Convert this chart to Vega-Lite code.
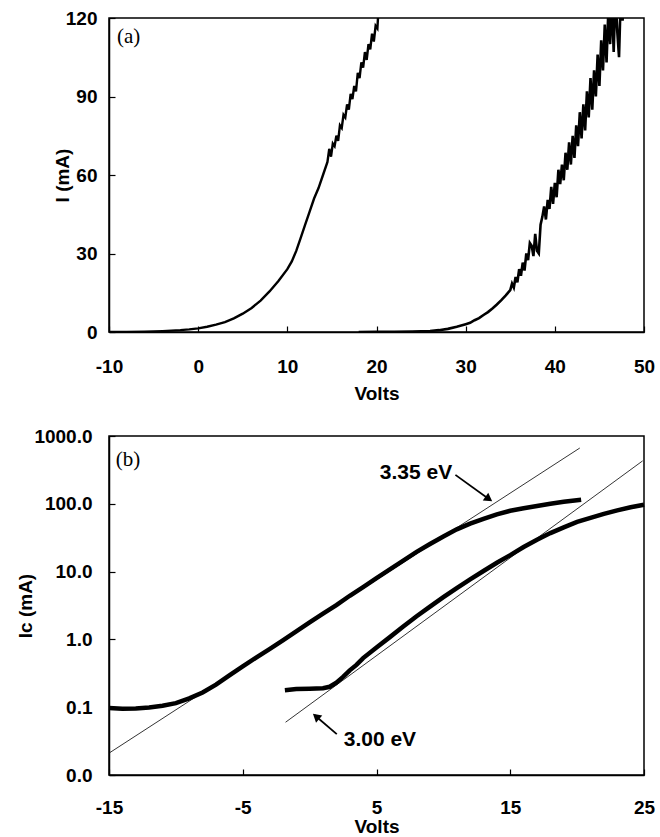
{
  "$schema": "https://vega.github.io/schema/vega-lite/v6.json",
  "padding": {"left": 16, "top": 8, "right": 12, "bottom": 0},
  "spacing": 22,
  "config": {
    "font": "Liberation Sans",
    "view": {"stroke": "black", "strokeWidth": 1.5},
    "axis": {
      "labelFont": "Liberation Sans", "labelFontSize": 19, "labelFontWeight": "bold", "labelColor": "black",
      "titleFont": "Liberation Sans", "titleFontSize": 19, "titleFontWeight": "bold", "titleColor": "black",
      "domainColor": "black", "domainWidth": 1.5, "tickColor": "black", "tickSize": -6, "tickWidth": 1.2,
      "grid": false, "labelFlush": false, "labelOverlap": false
    }
  },
  "datasets": {
    "a1": [
      {"x": -10, "y": 0}, {"x": -8, "y": 0.05}, {"x": -6, "y": 0.15}, {"x": -4, "y": 0.35}, {"x": -2, "y": 0.7},
      {"x": -1, "y": 1}, {"x": 0, "y": 1.4}, {"x": 1, "y": 2}, {"x": 2, "y": 2.8}, {"x": 3, "y": 3.8},
      {"x": 4, "y": 5.2}, {"x": 5, "y": 7}, {"x": 6, "y": 9.2}, {"x": 7, "y": 12}, {"x": 8, "y": 15.5},
      {"x": 9, "y": 19.5}, {"x": 10, "y": 24}, {"x": 10.5, "y": 27}, {"x": 11, "y": 31}, {"x": 11.5, "y": 36},
      {"x": 12, "y": 41}, {"x": 12.5, "y": 46}, {"x": 13, "y": 51}, {"x": 13.5, "y": 55}, {"x": 14, "y": 60},
      {"x": 14.5, "y": 65}, {"x": 14.7, "y": 70}, {"x": 14.9, "y": 67}, {"x": 15.1, "y": 72}, {"x": 15.3, "y": 71},
      {"x": 15.5, "y": 75}, {"x": 15.7, "y": 73}, {"x": 15.9, "y": 79}, {"x": 16.1, "y": 78}, {"x": 16.3, "y": 83},
      {"x": 16.5, "y": 82}, {"x": 16.7, "y": 87}, {"x": 16.9, "y": 85}, {"x": 17.1, "y": 91}, {"x": 17.3, "y": 89},
      {"x": 17.5, "y": 94}, {"x": 17.7, "y": 92}, {"x": 17.9, "y": 99}, {"x": 18.1, "y": 97}, {"x": 18.3, "y": 103},
      {"x": 18.5, "y": 101}, {"x": 18.7, "y": 107}, {"x": 18.9, "y": 104}, {"x": 19.1, "y": 110}, {"x": 19.3, "y": 108},
      {"x": 19.5, "y": 114}, {"x": 19.7, "y": 111}, {"x": 19.9, "y": 117}, {"x": 20.1, "y": 116}, {"x": 20.2, "y": 122}
    ],
    "a2": [
      {"x": 18, "y": 0}, {"x": 20, "y": 0.05}, {"x": 22, "y": 0.1}, {"x": 24, "y": 0.2}, {"x": 26, "y": 0.4},
      {"x": 27, "y": 0.7}, {"x": 28, "y": 1.2}, {"x": 29, "y": 2}, {"x": 30, "y": 3}, {"x": 30.5, "y": 3.5},
      {"x": 31, "y": 4.5}, {"x": 31.5, "y": 5.3}, {"x": 32, "y": 6.5}, {"x": 32.5, "y": 7.6}, {"x": 33, "y": 9},
      {"x": 33.5, "y": 10.5}, {"x": 34, "y": 12.2}, {"x": 34.5, "y": 14}, {"x": 35, "y": 16},
      {"x": 35.2, "y": 18.5}, {"x": 35.4, "y": 17}, {"x": 35.6, "y": 21}, {"x": 35.8, "y": 19}, {"x": 36.0, "y": 24},
      {"x": 36.2, "y": 21.5}, {"x": 36.4, "y": 26.5}, {"x": 36.6, "y": 23.5}, {"x": 36.8, "y": 30}, {"x": 37.0, "y": 27.5},
      {"x": 37.2, "y": 34}, {"x": 37.4, "y": 33}, {"x": 37.6, "y": 29}, {"x": 37.8, "y": 37.5}, {"x": 38.0, "y": 31},
      {"x": 38.2, "y": 30}, {"x": 38.4, "y": 41}, {"x": 38.6, "y": 44}, {"x": 38.8, "y": 48}, {"x": 39.0, "y": 43},
      {"x": 39.2, "y": 50.5}, {"x": 39.4, "y": 47}, {"x": 39.6, "y": 55.5}, {"x": 39.8, "y": 49}, {"x": 40.0, "y": 57},
      {"x": 40.2, "y": 51.5}, {"x": 40.4, "y": 62}, {"x": 40.6, "y": 56.5}, {"x": 40.8, "y": 64}, {"x": 41.0, "y": 58},
      {"x": 41.2, "y": 68.5}, {"x": 41.4, "y": 62}, {"x": 41.6, "y": 72.5}, {"x": 41.8, "y": 64}, {"x": 42.0, "y": 75},
      {"x": 42.2, "y": 66.5}, {"x": 42.4, "y": 79}, {"x": 42.6, "y": 71}, {"x": 42.8, "y": 84}, {"x": 43.0, "y": 74},
      {"x": 43.2, "y": 87}, {"x": 43.4, "y": 77}, {"x": 43.6, "y": 92}, {"x": 43.8, "y": 82}, {"x": 44.0, "y": 97},
      {"x": 44.2, "y": 85}, {"x": 44.4, "y": 100}, {"x": 44.6, "y": 90}, {"x": 44.8, "y": 106}, {"x": 45.0, "y": 94},
      {"x": 45.2, "y": 111.5}, {"x": 45.4, "y": 100}, {"x": 45.6, "y": 117.5}, {"x": 45.8, "y": 103}, {"x": 46.0, "y": 123},
      {"x": 46.2, "y": 110}, {"x": 46.4, "y": 126.5}, {"x": 46.6, "y": 107}, {"x": 46.8, "y": 129}, {"x": 47.0, "y": 115},
      {"x": 47.2, "y": 105}, {"x": 47.4, "y": 129}, {"x": 47.6, "y": 119}, {"x": 47.8, "y": 135}, {"x": 48.0, "y": 122},
      {"x": 48.2, "y": 129}, {"x": 48.4, "y": 139}
    ],
    "labA": [{"x": -9.1, "y": 112.7, "t": "(a)"}],
    "b1": [
      {"x": -15, "y": 0.097}, {"x": -14, "y": 0.095}, {"x": -13, "y": 0.096}, {"x": -12, "y": 0.099}, {"x": -11, "y": 0.105},
      {"x": -10, "y": 0.115}, {"x": -9, "y": 0.135}, {"x": -8, "y": 0.165}, {"x": -7, "y": 0.215}, {"x": -6, "y": 0.295},
      {"x": -5, "y": 0.4}, {"x": -4, "y": 0.54}, {"x": -3, "y": 0.72}, {"x": -2, "y": 0.97}, {"x": -1, "y": 1.31},
      {"x": 0, "y": 1.78}, {"x": 1, "y": 2.4}, {"x": 2, "y": 3.2}, {"x": 3, "y": 4.4}, {"x": 4, "y": 5.9},
      {"x": 5, "y": 8}, {"x": 6, "y": 10.8}, {"x": 7, "y": 14.5}, {"x": 8, "y": 19.5}, {"x": 9, "y": 25.5},
      {"x": 10, "y": 33}, {"x": 11, "y": 42}, {"x": 12, "y": 51}, {"x": 13, "y": 60}, {"x": 14, "y": 70},
      {"x": 15, "y": 79}, {"x": 16, "y": 86}, {"x": 17, "y": 93}, {"x": 18, "y": 100}, {"x": 19, "y": 107},
      {"x": 20.3, "y": 115}
    ],
    "b2": [
      {"x": -1.85, "y": 0.178}, {"x": -1, "y": 0.185}, {"x": 0, "y": 0.187}, {"x": 1, "y": 0.19}, {"x": 1.5, "y": 0.2},
      {"x": 2, "y": 0.23}, {"x": 2.5, "y": 0.28}, {"x": 3, "y": 0.35}, {"x": 3.5, "y": 0.42}, {"x": 4, "y": 0.53},
      {"x": 5, "y": 0.76}, {"x": 6, "y": 1.08}, {"x": 7, "y": 1.55}, {"x": 8, "y": 2.2}, {"x": 9, "y": 3.05},
      {"x": 10, "y": 4.2}, {"x": 11, "y": 5.7}, {"x": 12, "y": 7.7}, {"x": 13, "y": 10.2}, {"x": 14, "y": 13.5},
      {"x": 15, "y": 17.5}, {"x": 16, "y": 23}, {"x": 17, "y": 29.5}, {"x": 18, "y": 37}, {"x": 19, "y": 45},
      {"x": 20, "y": 54}, {"x": 21, "y": 62}, {"x": 22, "y": 71}, {"x": 23, "y": 80}, {"x": 24, "y": 89},
      {"x": 25, "y": 97}
    ],
    "tan": [
      {"x": -15, "y": 0.021, "line": "3.35 eV"}, {"x": 20.2, "y": 665, "line": "3.35 eV"},
      {"x": -1.8, "y": 0.06, "line": "3.00 eV"}, {"x": 24.9, "y": 430, "line": "3.00 eV"}
    ],
    "arrows": [
      {"x": 10.9, "y": 267, "x2": 13.5, "y2": 114},
      {"x": 2.03, "y": 0.04, "x2": 0.38, "y2": 0.076}
    ],
    "head1": [{"x": 13.4, "y": 118}],
    "head2": [{"x": 0.48, "y": 0.073}],
    "labB": [
      {"x": -14.5, "y": 445, "t": "(b)"}
    ],
    "ev": [
      {"x": 5.25, "y": 286, "t": "3.35 eV"},
      {"x": 2.55, "y": 0.0327, "t": "3.00 eV"}
    ]
  },
  "vconcat": [
    {
      "width": 535,
      "height": 314,
      "encoding": {
        "x": {"field": "x", "type": "quantitative", "scale": {"domain": [-10, 50], "nice": false},
              "axis": {"values": [-10, 0, 10, 20, 30, 40, 50], "labelExpr": "replace(datum.label, '\u2212', '-')", "labelPadding": 31, "titlePadding": 8}, "title": "Volts"},
        "y": {"field": "y", "type": "quantitative", "scale": {"domain": [0, 120], "nice": false},
              "axis": {"values": [0, 30, 60, 90, 120], "labelPadding": 18, "titlePadding": -7}, "title": "I (mA)"}
      },
      "layer": [
        {"data": {"name": "a1"}, "mark": {"type": "line", "color": "black", "strokeWidth": 2.4, "clip": true}},
        {"data": {"name": "a2"}, "mark": {"type": "line", "color": "black", "strokeWidth": 2.6, "clip": true}},
        {"data": {"name": "labA"}, "mark": {"type": "text", "font": "Liberation Serif", "fontSize": 21, "align": "left", "baseline": "middle", "color": "black"},
         "encoding": {"text": {"field": "t"}}}
      ]
    },
    {
      "width": 535,
      "height": 339,
      "encoding": {
        "x": {"field": "x", "type": "quantitative", "scale": {"domain": [-15, 25], "nice": false},
              "axis": {"values": [-15, -5, 5, 15, 25], "labelExpr": "replace(datum.label, '\u2212', '-')", "labelPadding": 29, "titlePadding": 0}, "title": "Volts"},
        "y": {"field": "y", "type": "quantitative", "scale": {"type": "log", "domain": [0.01, 1000], "nice": false},
              "axis": {"values": [0.01, 0.1, 1, 10, 100, 1000], "format": ".1f", "labelPadding": 23, "titlePadding": -2}, "title": "Ic (mA)"}
      },
      "layer": [
        {"data": {"name": "tan"}, "mark": {"type": "line", "color": "black", "strokeWidth": 0.8, "clip": true},
         "encoding": {"detail": {"field": "line"}}},
        {"data": {"name": "b1"}, "mark": {"type": "line", "color": "black", "strokeWidth": 4.5}},
        {"data": {"name": "b2"}, "mark": {"type": "line", "color": "black", "strokeWidth": 4.5}},
        {"data": {"name": "arrows"}, "mark": {"type": "rule", "color": "black", "strokeWidth": 1.8},
         "encoding": {"x2": {"field": "x2"}, "y2": {"field": "y2"}}},
        {"data": {"name": "head1"}, "mark": {"type": "point", "shape": "triangle-up", "filled": true, "color": "black", "size": 90, "angle": 125.5, "opacity": 1}},
        {"data": {"name": "head2"}, "mark": {"type": "point", "shape": "triangle-up", "filled": true, "color": "black", "size": 90, "angle": 311, "opacity": 1}},
        {"data": {"name": "labB"}, "mark": {"type": "text", "font": "Liberation Serif", "fontSize": 21, "align": "left", "baseline": "middle", "color": "black"},
         "encoding": {"text": {"field": "t"}}},
        {"data": {"name": "ev"}, "mark": {"type": "text", "font": "Liberation Sans", "fontSize": 21, "fontWeight": "bold", "align": "left", "baseline": "middle", "color": "black"},
         "encoding": {"text": {"field": "t"}}}
      ]
    }
  ]
}
